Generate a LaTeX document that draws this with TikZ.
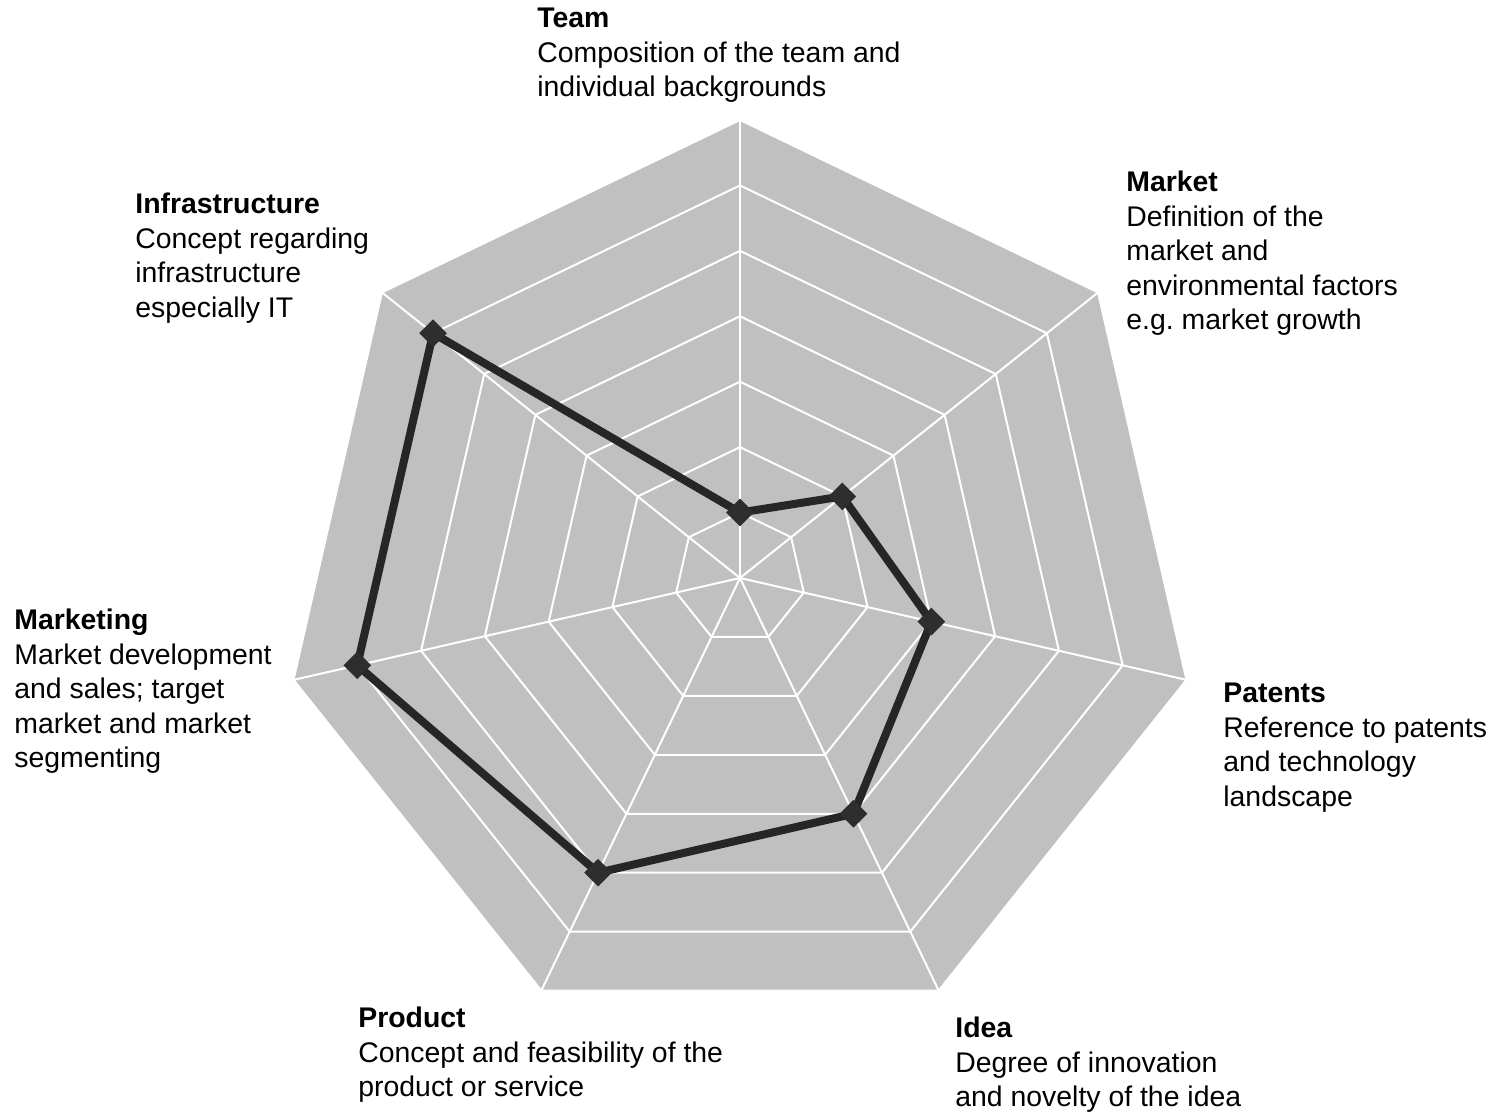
\documentclass[tikz,border=0pt]{standalone}
\usepackage{fontspec}
\setmainfont{Liberation Sans}
\usetikzlibrary{positioning,shapes.geometric}

\definecolor{radarfill}{HTML}{C0C0C0}
\definecolor{seriesline}{HTML}{262626}
\definecolor{seriesmark}{HTML}{2E2E2E}

\tikzset{
    gridline/.style = {draw=white, line width=1pt},
    seriespath/.style = {draw=seriesline, line width=4pt, line join=round},
    marker/.style = {diamond, fill=seriesmark, inner sep=0pt, minimum size=14pt},
    axislabel/.style = {anchor=base west, align=left, inner sep=0pt,
        font=\fontsize{14.2}{17.25}\selectfont\frenchspacing}
}

\begin{document}
\begin{tikzpicture}[x=0.5pt,y=0.5pt]
            \useasboundingbox (-740,-534) rectangle (760,578);

            % axes of the heptagon
            \foreach \i in {0,...,6}
                \coordinate (ax\i) at ({90-\i*360/7}:458);

            \fill [radarfill] (ax0) \foreach \i in {1,...,6}{ -- (ax\i)} -- cycle;

            % rings
            \foreach \k in {1,...,7}
                \draw [gridline] (90:\k*458/7)
                    \foreach \i in {1,...,6}{ -- ({90-\i*360/7}:\k*458/7)} -- cycle;
            \foreach \i in {0,...,6}
                \draw [gridline] (0,0) -- (ax\i);

            % data series
            \foreach \v [count=\i from 0] in {1,2,3,4,5,6,6}
                \coordinate (pt\i) at ({90-\i*360/7}:\v*458/7);
            \draw [seriespath] (pt0) \foreach \i in {1,...,6}{ -- (pt\i)} -- cycle;
            \foreach \i in {0,...,6}
                \node [marker] (mark\i) at (pt\i) {};

            % labels (placed by the baseline of their last line)
            \node [axislabel] (team) at (-203,481)
                {\textbf{Team}\\Composition of the team and\\individual backgrounds};
            \node [axislabel] (market) at (386,248)
                {\textbf{Market}\\Definition of the\\market and\\environmental factors\\e.g. market growth};
            \node [axislabel] (patents) at (483,-228.5)
                {\textbf{Patents}\\Reference to patents\\and technology\\landscape};
            \node [axislabel] (idea) at (215,-529)
                {\textbf{Idea}\\Degree of innovation\\and novelty of the idea};
            \node [axislabel] (product) at (-382,-519)
                {\textbf{Product}\\Concept and feasibility of the\\product or service};
            \node [axislabel] (marketing) at (-726,-190)
                {\textbf{Marketing}\\Market development\\and sales; target\\market and market\\segmenting};
            \node [axislabel] (infra) at (-605,260.5)
                {\textbf{Infrastructure}\\Concept regarding\\infrastructure\\especially IT};
        \end{tikzpicture}
\end{document}
